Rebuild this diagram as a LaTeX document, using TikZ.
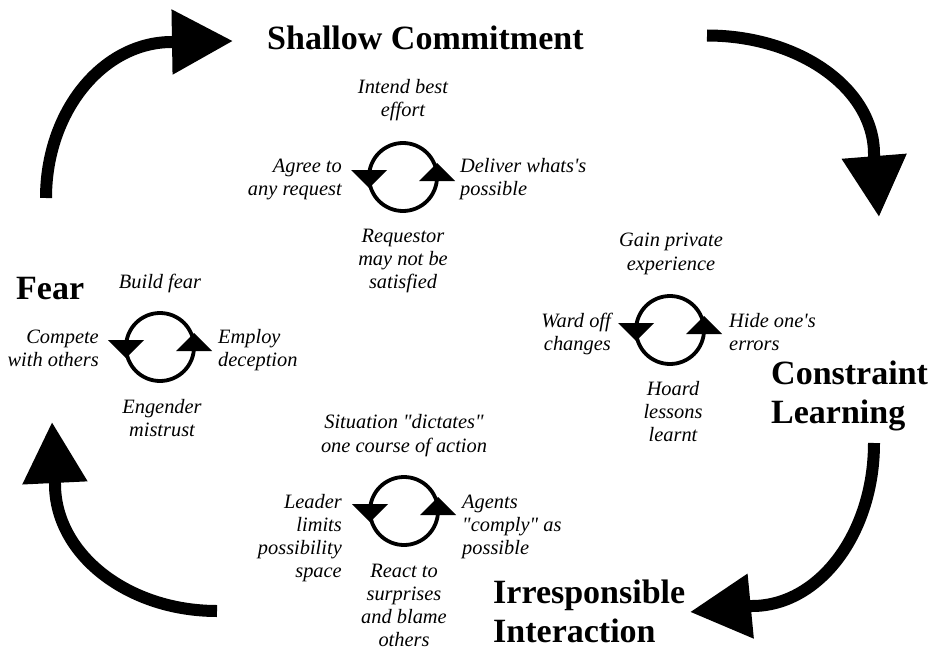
\documentclass[tikz,border=0pt]{standalone}
\usepackage{fontspec}
\setmainfont{Liberation Serif}[Ligatures=TeXOff]
\usetikzlibrary{arrows.meta}
\tikzset{
  lab/.style={font=\fontsize{20.4}{23.3}\selectfont\itshape, inner sep=0pt},
  ttl/.style={font=\fontsize{34}{38.5}\selectfont\bfseries, inner sep=0pt, align=left},
  bigarrow/.style={line width=12pt, -{Triangle[length=61pt,width=62pt]}},
  ring/.style={line width=3.8pt},
  pics/cycle/.style={code={
    \draw[ring] (0,0) circle[radius=34];
    \fill (-52,-7) -- (-16,-7) -- (-34,11) -- cycle;
    \fill (16,4) -- (52,4) -- (34,-14) -- cycle;
  }}
}
\begin{document}
\begin{tikzpicture}[x=1pt,y=-1pt]
\useasboundingbox (0,0) rectangle (934,650);

% stage titles (base anchor = baseline of the last line)
\node[ttl, anchor=base west] (shallow) at (267,50) {Shallow Commitment};
\node[ttl, anchor=base west] (fear) at (16,299) {Fear};
\node[ttl, anchor=base west] (constraint) at (771,423) {Constraint\\Learning};
\node[ttl, anchor=base west] (irresp) at (493,642) {Irresponsible\\Interaction};

% big arrows between stages
\coordinate (tlS) at (46,198);  \coordinate (tlB) at (172,42);  \coordinate (tlT) at (233,41);
\coordinate (trS) at (707,35.5); \coordinate (trB) at (874,154); \coordinate (trT) at (879,217);
\coordinate (brS) at (874,443); \coordinate (brB) at (752,606); \coordinate (brT) at (690,612);
\coordinate (blS) at (217,611); \coordinate (blB) at (55,484);  \coordinate (blT) at (52,422);

\draw[bigarrow] (tlS) .. controls (46,111.8) and (102.4,42) .. (tlB) -- (tlT);
\draw[bigarrow] (trS) .. controls (799.2,35.5) and (874,88.6) .. (trB) -- (trT);
\draw[bigarrow] (brS) .. controls (874,533) and (819.4,606) .. (brB) -- (brT);
\draw[bigarrow] (blS) .. controls (127.5,611) and (55,554.1) .. (blB) -- (blT);

% small cycles
\pic at (403,177) {cycle};
\pic at (160,347) {cycle};
\pic at (670,330) {cycle};
\pic at (404,511) {cycle};

% Shallow Commitment cycle
\node[lab, align=center, anchor=base] (sc-t) at (403,117) {Intend best\\effort};
\node[lab, align=right, anchor=base east] (sc-l) at (342,195.3) {Agree to\\any request};
\node[lab, align=left, anchor=base west] (sc-r) at (460,195.3) {Deliver whats's\\possible};
\node[lab, align=center, anchor=base] (sc-b) at (403,288.6) {Requestor\\may not be\\satisfied};

% Fear cycle
\node[lab, align=center, anchor=base] (fe-t) at (160,288) {Build fear};
\node[lab, align=right, anchor=base east] (fe-l) at (99,366.3) {Compete\\with others};
\node[lab, align=left, anchor=base west] (fe-r) at (218,366.3) {Employ\\deception};
\node[lab, align=center, anchor=base] (fe-b) at (162,436.3) {Engender\\mistrust};

% Constraint Learning cycle
\node[lab, align=center, anchor=base] (cl-t) at (671,270) {Gain private\\experience};
\node[lab, align=right, anchor=base east] (cl-l) at (611,350.3) {Ward off\\changes};
\node[lab, align=left, anchor=base west] (cl-r) at (729,350.3) {Hide one's\\errors};
\node[lab, align=center, anchor=base] (cl-b) at (673,441.6) {Hoard\\lessons\\learnt};

% Irresponsible Interaction cycle
\node[lab, align=center, anchor=base] (ii-t) at (404,452) {Situation "dictates"\\one course of action};
\node[lab, align=right, anchor=base east] (ii-l) at (342,577.9) {Leader\\limits\\possibility\\space};
\node[lab, align=left, anchor=base west] (ii-r) at (462,554.6) {Agents\\"comply" as\\possible};
\node[lab, align=center, anchor=base] (ii-b) at (404,646.9) {React to\\surprises\\and blame\\others};
\end{tikzpicture}
\end{document}
